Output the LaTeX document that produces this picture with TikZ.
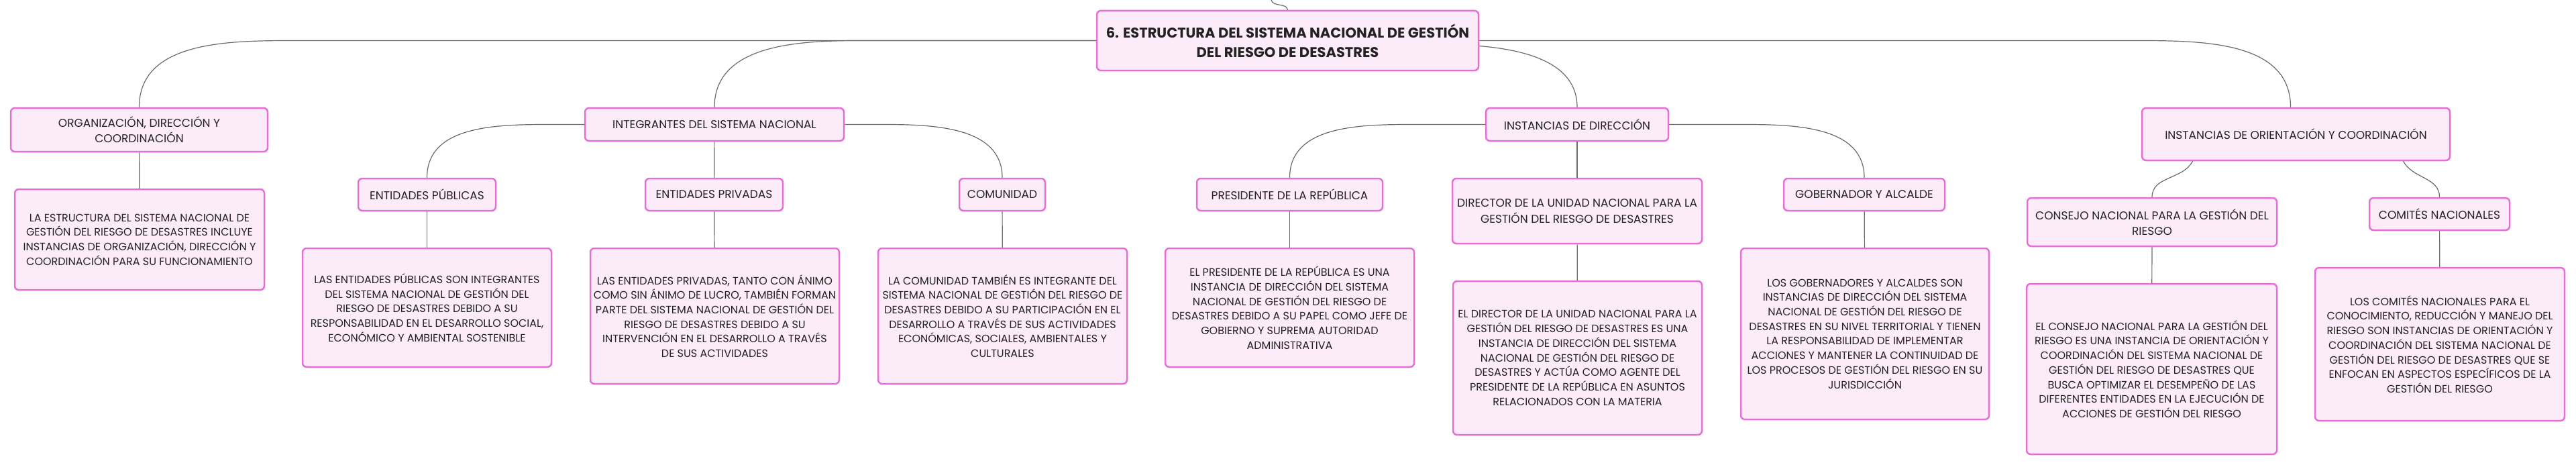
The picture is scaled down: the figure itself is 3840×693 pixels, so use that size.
\documentclass[tikz,border=0pt]{standalone}
\usepackage{fontspec}
\setmainfont{Poppins}
\usepackage{tikz}
\definecolor{boxfill}{HTML}{FCEBF9}
\definecolor{boxdraw}{HTML}{E66FD6}
\definecolor{linegray}{HTML}{6A6A6A}
\definecolor{textdark}{HTML}{222222}
\tikzstyle{titlebox} = [rectangle, rounded corners=6pt, draw=boxdraw, line width=2.5pt, fill=boxfill, text=textdark, align=center, inner sep=2pt, font=\fontsize{21}{29}\selectfont\bfseries]
\tikzstyle{topic} = [rectangle, rounded corners=6pt, draw=boxdraw, line width=2.5pt, fill=boxfill, text=textdark, align=center, inner sep=2pt, font=\fontsize{17}{23.3}\selectfont]
\tikzstyle{desc} = [rectangle, rounded corners=6pt, draw=boxdraw, line width=2.5pt, fill=boxfill, text=textdark, align=center, inner sep=2pt, font=\fontsize{16}{21.7}\selectfont]
\tikzstyle{link} = [draw=linegray, line width=1.2pt]

\begin{document}
\begin{tikzpicture}[x=1pt, y=-1pt]
	\useasboundingbox (0,0) rectangle (3840,693);
	\node(root) [titlebox, minimum width=569pt, minimum height=89pt] at (1919.5,60.5) {6. ESTRUCTURA DEL SISTEMA NACIONAL DE GESTIÓN\\DEL RIESGO DE DESASTRES};
	\coordinate(root_parent) at (1895,0);
	
	% organizacion
	\node(org) [topic, minimum width=383pt, minimum height=65pt] at (207.5,193.5) {ORGANIZACIÓN, DIRECCIÓN Y\\COORDINACIÓN};
	\node(org_desc) [desc, minimum width=372pt, minimum height=150pt] at (208,357) {LA ESTRUCTURA DEL SISTEMA NACIONAL DE\\GESTIÓN DEL RIESGO DE DESASTRES INCLUYE\\INSTANCIAS DE ORGANIZACIÓN, DIRECCIÓN Y\\COORDINACIÓN PARA SU FUNCIONAMIENTO};
	
	% integrantes
	\node(integrantes) [topic, minimum width=386pt, minimum height=49pt] at (1065,185.5) {INTEGRANTES DEL SISTEMA NACIONAL};
	\node(ent_pub) [topic, minimum width=205pt, minimum height=48pt] at (636.5,290) {ENTIDADES PÚBLICAS};
	\node(ent_pub_desc) [desc, minimum width=371pt, minimum height=177pt] at (636.5,458.5) {LAS ENTIDADES PÚBLICAS SON INTEGRANTES\\DEL SISTEMA NACIONAL DE GESTIÓN DEL\\RIESGO DE DESASTRES DEBIDO A SU\\RESPONSABILIDAD EN EL DESARROLLO SOCIAL,\\ECONÓMICO Y AMBIENTAL SOSTENIBLE};
	\node(ent_priv) [topic, minimum width=205pt, minimum height=48pt] at (1064.5,290) {ENTIDADES PRIVADAS};
	\node(ent_priv_desc) [desc, minimum width=371pt, minimum height=202pt] at (1065.5,471) {LAS ENTIDADES PRIVADAS, TANTO CON ÁNIMO\\COMO SIN ÁNIMO DE LUCRO, TAMBIÉN FORMAN\\PARTE DEL SISTEMA NACIONAL DE GESTIÓN DEL\\RIESGO DE DESASTRES DEBIDO A SU\\INTERVENCIÓN EN EL DESARROLLO A TRAVÉS\\DE SUS ACTIVIDADES};
	\node(comunidad) [topic, minimum width=128pt, minimum height=48pt] at (1494,290) {COMUNIDAD};
	\node(comunidad_desc) [desc, minimum width=371pt, minimum height=202pt] at (1494.5,471) {LA COMUNIDAD TAMBIÉN ES INTEGRANTE DEL\\SISTEMA NACIONAL DE GESTIÓN DEL RIESGO DE\\DESASTRES DEBIDO A SU PARTICIPACIÓN EN EL\\DESARROLLO A TRAVÉS DE SUS ACTIVIDADES\\ECONÓMICAS, SOCIALES, AMBIENTALES Y\\CULTURALES};
	
	% direccion
	\node(inst_dir) [topic, minimum width=272pt, minimum height=49pt] at (2351,185.5) {INSTANCIAS DE DIRECCIÓN};
	\node(presidente) [topic, minimum width=277pt, minimum height=48pt] at (1922.5,290) {PRESIDENTE DE LA REPÚBLICA};
	\node(presidente_desc) [desc, minimum width=371pt, minimum height=177pt] at (1922.5,458.5) {EL PRESIDENTE DE LA REPÚBLICA ES UNA\\INSTANCIA DE DIRECCIÓN DEL SISTEMA\\NACIONAL DE GESTIÓN DEL RIESGO DE\\DESASTRES DEBIDO A SU PAPEL COMO JEFE DE\\GOBIERNO Y SUPREMA AUTORIDAD\\ADMINISTRATIVA};
	\node(director) [topic, minimum width=372pt, minimum height=97pt] at (2351,314.5) {DIRECTOR DE LA UNIDAD NACIONAL PARA LA\\GESTIÓN DEL RIESGO DE DESASTRES};
	\node(director_desc) [desc, minimum width=371pt, minimum height=229pt] at (2351.5,533.5) {EL DIRECTOR DE LA UNIDAD NACIONAL PARA LA\\GESTIÓN DEL RIESGO DE DESASTRES ES UNA\\INSTANCIA DE DIRECCIÓN DEL SISTEMA\\NACIONAL DE GESTIÓN DEL RIESGO DE\\DESASTRES Y ACTÚA COMO AGENTE DEL\\PRESIDENTE DE LA REPÚBLICA EN ASUNTOS\\RELACIONADOS CON LA MATERIA};
	\node(gobernador) [topic, minimum width=240pt, minimum height=48pt] at (2779,290) {GOBERNADOR Y ALCALDE};
	\node(gobernador_desc) [desc, minimum width=370pt, minimum height=255pt] at (2780,497.5) {LOS GOBERNADORES Y ALCALDES SON\\INSTANCIAS DE DIRECCIÓN DEL SISTEMA\\NACIONAL DE GESTIÓN DEL RIESGO DE\\DESASTRES EN SU NIVEL TERRITORIAL Y TIENEN\\LA RESPONSABILIDAD DE IMPLEMENTAR\\ACCIONES Y MANTENER LA CONTINUIDAD DE\\LOS PROCESOS DE GESTIÓN DEL RIESGO EN SU\\JURISDICCIÓN};
	
	% orientacion y coordinacion
	\node(inst_orient) [topic, minimum width=459pt, minimum height=78pt] at (3422.5,200) {INSTANCIAS DE ORIENTACIÓN Y COORDINACIÓN};
	\node(consejo) [topic, minimum width=372pt, minimum height=72pt] at (3208,331) {CONSEJO NACIONAL PARA LA GESTIÓN DEL\\RIESGO};
	\node(consejo_desc) [desc, minimum width=373pt, minimum height=254pt] at (3207.5,550) {EL CONSEJO NACIONAL PARA LA GESTIÓN DEL\\RIESGO ES UNA INSTANCIA DE ORIENTACIÓN Y\\COORDINACIÓN DEL SISTEMA NACIONAL DE\\GESTIÓN DEL RIESGO DE DESASTRES QUE\\BUSCA OPTIMIZAR EL DESEMPEÑO DE LAS\\DIFERENTES ENTIDADES EN LA EJECUCIÓN DE\\ACCIONES DE GESTIÓN DEL RIESGO};
	\node(comites) [topic, minimum width=209pt, minimum height=48pt] at (3636.5,319) {COMITÉS NACIONALES};
	\node(comites_desc) [desc, minimum width=372pt, minimum height=228pt] at (3637,513) {LOS COMITÉS NACIONALES PARA EL\\CONOCIMIENTO, REDUCCIÓN Y MANEJO DEL\\RIESGO SON INSTANCIAS DE ORIENTACIÓN Y\\COORDINACIÓN DEL SISTEMA NACIONAL DE\\GESTIÓN DEL RIESGO DE DESASTRES QUE SE\\ENFOCAN EN ASPECTOS ESPECÍFICOS DE LA\\GESTIÓN DEL RIESGO};
	
	\draw[link] (root.north) to[out=100,in=-75] (root_parent);
	\draw[link] (root.west) -- ++(-1193,0) to[out=180,in=90] (org.north);
	\draw[link] (root.west) -- ++(-353,0) to[out=180,in=90] (integrantes.north);
	\draw[link] (root.east) -- ++(970,0) to[out=0,in=90] ([xshift=-8pt]inst_orient.north);
	\draw[link] ([yshift=-8pt]root.east) to[out=-5,in=90] (inst_dir.north);
	\draw[link] (org) -- (org_desc);
	\draw[link] (integrantes.west) -- ++(-45,0) to[out=180,in=90] (ent_pub.north);
	\draw[link] (integrantes) -- (ent_priv);
	\draw[link] (integrantes.east) -- ++(59,0) to[out=0,in=90] (comunidad.north);
	\draw[link] (ent_pub) -- (ent_pub_desc);
	\draw[link] (ent_priv) -- (ent_priv_desc);
	\draw[link] (comunidad) -- (comunidad_desc);
	\draw[link] (inst_dir.west) -- ++(-110,0) to[out=180,in=90] (presidente.north);
	\draw[link] (inst_dir) -- (director);
	\draw[link] (inst_dir.east) -- ++(110,0) to[out=0,in=90] (gobernador.north);
	\draw[link] (presidente) -- (presidente_desc);
	\draw[link] (director) -- (director_desc);
	\draw[link] (gobernador) -- (gobernador_desc);
	\draw[link] ([xshift=-154pt]inst_orient.south) to[out=-118,in=90] (consejo.north);
	\draw[link] ([xshift=160pt]inst_orient.south) to[out=-62,in=90] (comites.north);
	\draw[link] (consejo) -- (consejo_desc);
	\draw[link] (comites) -- (comites_desc);
\end{tikzpicture}
\end{document}
